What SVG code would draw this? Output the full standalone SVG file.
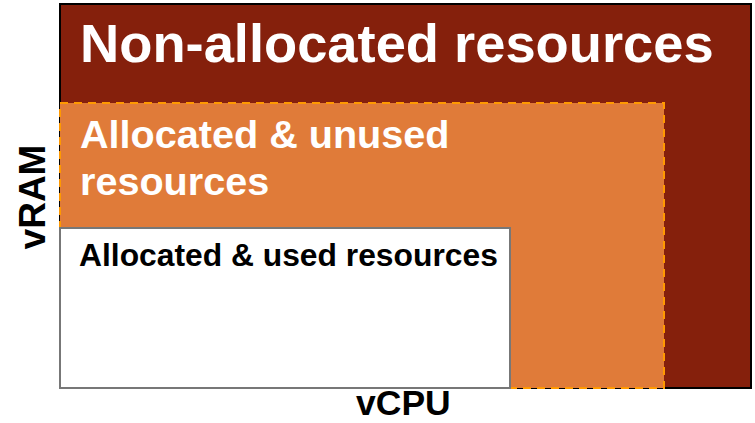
<svg xmlns="http://www.w3.org/2000/svg" width="755" height="423" viewBox="0 0 755 423">
<style>
text{font-family:"Liberation Sans",Arial,sans-serif;font-weight:bold}
.w{fill:#ffffff}
.k{fill:#000000}
</style>
<rect width="755" height="423" fill="#ffffff"/>
<g id="non-allocated">
<rect x="60" y="4" width="691" height="384" fill="#85200c" stroke="#000000" stroke-width="2"/>
<text class="w" x="80" y="62" font-size="54.3">Non-allocated resources</text>
</g>
<g id="allocated-unused">
<rect x="60" y="103" width="604" height="285" fill="#e07b39" stroke="#ff9900" stroke-width="2" stroke-dasharray="8,6"/>
<text class="w" x="80" y="148" font-size="39.6">Allocated &amp; unused</text>
<text class="w" x="80" y="195" font-size="39.6">resources</text>
</g>
<g id="allocated-used">
<rect x="60" y="228" width="450" height="160" fill="#ffffff" stroke="#777777" stroke-width="2"/>
<text class="k" x="79" y="266" font-size="31.8">Allocated &amp; used resources</text>
</g>
<g id="axes">
<text class="k" x="0" y="0" font-size="37" transform="translate(45,197) rotate(-90)" text-anchor="middle">vRAM</text>
<text class="k" x="356" y="415" font-size="35.5">vCPU</text>
</g>
</svg>
